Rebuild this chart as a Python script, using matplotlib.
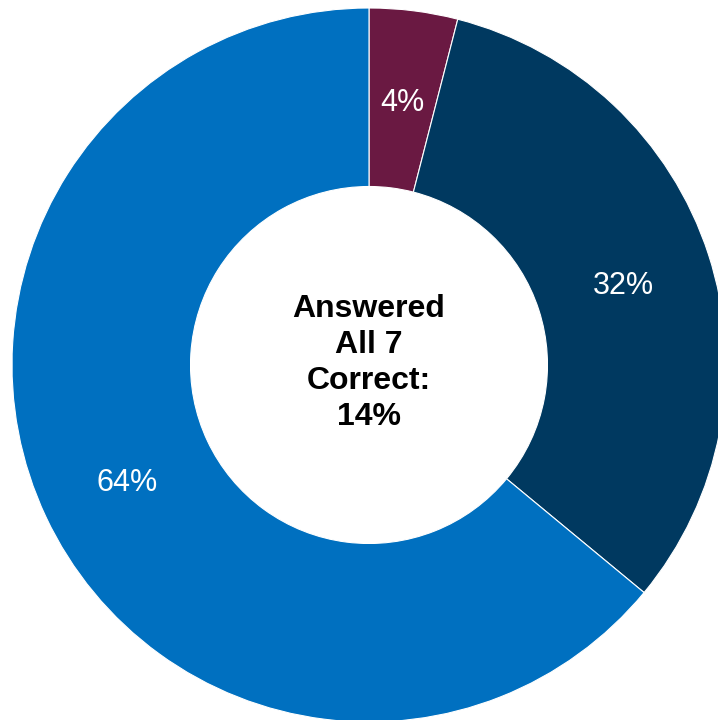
import matplotlib.pyplot as plt

# survey answer split, clockwise from the top
shares = [4, 32, 64]
labels = ['4%', '32%', '64%']
colors = ['#6A1942', '#003960', '#0070C0']
center_text = 'Answered\nAll 7\nCorrect:\n14%'

plt.rcParams['font.family'] = ['Liberation Sans', 'DejaVu Sans']

fig = plt.figure(figsize=(7.18, 7.2), dpi=100)
ax = fig.add_axes([0, 0, 1, 1])

R = 357
cx, cy = 369, 720 - 365

wedges, texts, autotexts = ax.pie(
    shares, colors=colors, startangle=90, counterclock=False,
    radius=R, center=(cx, cy),
    autopct=lambda p: '%d%%' % round(p), pctdistance=0.75,
    wedgeprops=dict(width=R * 0.5, edgecolor='white', linewidth=0.8),
    textprops=dict(color='white', fontsize=22))

# nudge the percentage labels down a touch
for t in autotexts:
    x, y = t.get_position()
    t.set_position((x, y - 4))

ax.text(cx, cy + 2, center_text, ha='center', va='center',
        fontsize=23, fontweight='bold', color='black', linespacing=1.25)

ax.set_xlim(0, 718)
ax.set_ylim(0, 720)
ax.set_aspect('equal')
ax.axis('off')

fig.savefig('out.png', dpi=100)
